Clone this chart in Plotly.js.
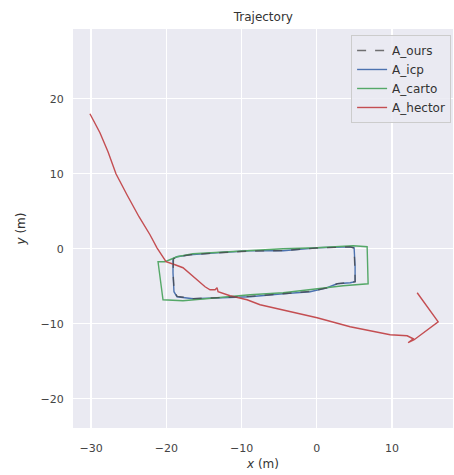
<!DOCTYPE html>
<html>
<head>
<meta charset="utf-8">
<script src="https://cdn.plot.ly/plotly-3.0.1.min.js"></script>
<style>html,body{margin:0;padding:0;background:#fff;}#chart{width:454px;height:475px;}</style>
</head>
<body>
<div id="chart"></div>
<script>
// A_ours (dashed, nearly on top of A_icp)
const oursX = [-19.05, -19.1, -18.95, -18.55, -16.4, -13.3, -8.9, -4.5, -0.9, 1.4, 2.75, 4.4, 5.1, 5.05, 4.95, 4.4, 0.0, -4.5, -8.9, -13.3, -16.8, -18.6, -19.05];
const oursY = [-1.35, -3.25, -5.7, -6.35, -6.65, -6.5, -6.35, -6.0, -5.7, -5.2, -4.65, -4.5, -4.4, -2.4, 0.1, 0.25, 0.1, -0.25, -0.3, -0.55, -0.8, -1.1, -1.35];
// A_icp
const icpX = [-19.11, -19.11, -18.98, -18.58, -16.45, -13.26, -8.87, -4.48, -0.89, 1.37, 2.7, 4.43, 5.09, 5.09, 4.96, 4.43, 0.04, -4.48, -8.87, -13.26, -16.85, -18.58, -19.11];
const icpY = [-1.33, -3.2, -5.73, -6.4, -6.67, -6.53, -6.4, -6.0, -5.73, -5.2, -4.67, -4.53, -4.4, -2.4, 0.13, 0.27, 0.13, -0.27, -0.27, -0.53, -0.8, -1.07, -1.33];
// A_carto
const cartoX = [-20.17, -21.1, -20.44, -17.78, -13.26, -8.87, -4.48, 0.04, 3.5, 6.82, 6.69, 4.83, 0.04, -4.48, -8.87, -13.26, -16.45, -18.58, -20.17];
const cartoY = [-1.73, -1.73, -6.8, -6.93, -6.53, -6.13, -5.87, -5.33, -4.93, -4.67, 0.27, 0.4, 0.13, 0.0, -0.27, -0.53, -0.67, -1.07, -1.73];
// A_hector
const hectorX = [-30.15, -28.82, -27.75, -26.69, -25.23, -23.63, -22.17, -21.24, -20.04, -19.5, -18.84, -17.78, -16.45, -14.85, -14.19, -13.52, -13.26, -13.12, -11.53, -9.27, -7.54, -4.48, 0.04, 4.43, 9.75, 12.01, 12.81, 12.14, 12.94, 16.13, 13.34];
const hectorY = [18.0, 15.47, 12.93, 10.0, 7.2, 4.27, 1.87, 0.13, -1.73, -1.87, -2.13, -2.53, -3.73, -5.07, -5.47, -5.47, -5.2, -5.73, -6.27, -6.8, -7.47, -8.13, -9.2, -10.4, -11.47, -11.6, -12.0, -12.53, -12.13, -9.73, -5.87];

const xTicks = [-30, -20, -10, 0, 10];
const yTicks = [-20, -10, 0, 10, 20];

const traces = [
  {x: icpX, y: icpY, name: 'A_icp', legendrank: 2, mode: 'lines', line: {color: '#4C72B0', width: 1.4}},
  {x: cartoX, y: cartoY, name: 'A_carto', legendrank: 3, mode: 'lines', line: {color: '#55A868', width: 1.4}},
  {x: hectorX, y: hectorY, name: 'A_hector', legendrank: 4, mode: 'lines', line: {color: '#C44E52', width: 1.4}},
  {x: oursX, y: oursY, name: 'A_ours', legendrank: 1, mode: 'lines', line: {color: 'rgba(70,70,70,0.75)', width: 1.4, dash: 'dash'}}
];

const tickFmt = v => v < 0 ? '\u2212' + Math.abs(v) : String(v);
const axisCommon = {
  showgrid: true, gridcolor: '#ffffff', gridwidth: 1.2, zeroline: false, showline: false,
  ticks: 'outside', tickcolor: 'rgba(0,0,0,0)',
  tickfont: {family: 'DejaVu Sans', size: 11, color: '#444'}
};

const layout = {
  width: 454, height: 475,
  margin: {l: 73, r: 1, t: 29, b: 47},
  paper_bgcolor: '#ffffff', plot_bgcolor: '#EAEAF2',
  title: {text: 'Trajectory', font: {family: 'DejaVu Sans', size: 12, color: '#333'}, x: 0.58, xanchor: 'center', y: 0.964, yanchor: 'middle'},
  xaxis: Object.assign({}, axisCommon, {range: [-32.4, 18.1], ticklen: 10, tickvals: xTicks, ticktext: xTicks.map(tickFmt),
    title: {text: '<i>x</i> (m)', font: {family: 'DejaVu Sans', size: 12, color: '#333'}, standoff: 5}}),
  yaxis: Object.assign({}, axisCommon, {range: [-23.9, 29.3], ticklen: 6, tickvals: yTicks, ticktext: yTicks.map(tickFmt),
    title: {text: '<i>y</i> (m)', font: {family: 'DejaVu Sans', size: 12, color: '#333'}, standoff: 12}}),
  showlegend: true,
  legend: {x: 0.995, y: 0.985, xanchor: 'right', yanchor: 'top', bgcolor: 'rgba(234,234,242,0.85)', bordercolor: '#cccccc', borderwidth: 1,
    font: {family: 'DejaVu Sans', size: 12, color: '#333'}, tracegroupgap: 0, itemwidth: 30}
};

Plotly.newPlot('chart', traces, layout, {staticPlot: true, displayModeBar: false});
</script>
</body>
</html>
